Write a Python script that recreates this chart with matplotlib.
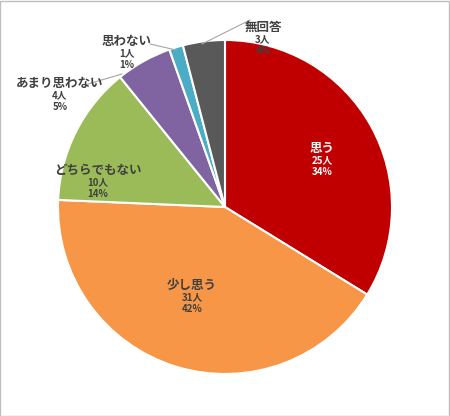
import matplotlib.pyplot as plt
from matplotlib.patches import Rectangle

plt.rcParams['font.family'] = ['Noto Sans CJK JP', 'DejaVu Sans']

labels = ["思う", "少し思う", "どちらでもない", "あまり思わない", "思わない", "無回答"]
counts = [25, 31, 10, 4, 1, 3]
percents = ["34%", "42%", "14%", "5%", "1%", "4%"]
colors = ["#C00000", "#F79646", "#9BBB59", "#8064A2", "#4BACC6", "#595959"]

# label positions in pixels (x, y from top), text colour
label_pos = [(322, 155, "white"), (192, 292, "#404040"), (98, 177, "#404040"),
             (60, 90, "#404040"), (127, 48, "#404040"), (263, 34, "#404040")]
# leader lines for outside labels (pixel coords)
leaders = {3: [(88, 84), (122, 74)], 4: [(150, 44), (176, 50)], 5: [(250, 20), (202, 44)]}

W, H = 450, 416
fig = plt.figure(figsize=(W / 100, H / 100), dpi=100)
ax = fig.add_axes([(225 - 167) / W, 1 - (207 + 167) / H, 334 / W, 334 / H])
ax.pie(counts, colors=colors, startangle=90, counterclock=False,
       wedgeprops=dict(edgecolor="white", linewidth=1.5))
ax.set_xlim(-1, 1)
ax.set_ylim(-1, 1)
ax.set_aspect("equal")

for i, (x, y, c) in enumerate(label_pos):
    fig.text(x / W, 1 - y / H, labels[i], ha="center", va="bottom",
             fontsize=9, fontweight="bold", color=c)
    fig.text(x / W, 1 - y / H, f"{counts[i]}人\n{percents[i]}", ha="center",
             va="top", fontsize=7, fontweight="bold", color=c, linespacing=1.3)

for i, pts in leaders.items():
    xs = [p[0] / W for p in pts]
    ys = [1 - p[1] / H for p in pts]
    fig.add_artist(plt.Line2D(xs, ys, color="#A6A6A6", linewidth=0.8))

fig.add_artist(Rectangle((0.001, 0.001), 0.997, 0.997, transform=fig.transFigure,
                         fill=False, edgecolor="#BFBFBF", linewidth=1))
fig.savefig("out.png", dpi=100)
